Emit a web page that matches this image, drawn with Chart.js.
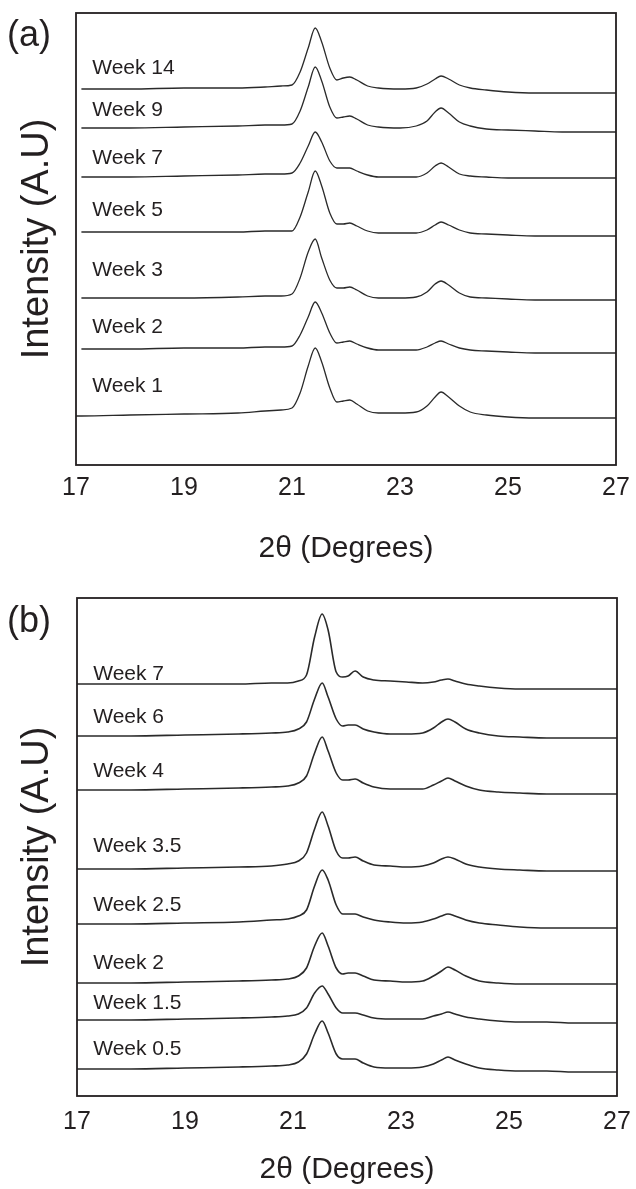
<!DOCTYPE html>
<html>
<head>
<meta charset="utf-8">
<script src="https://cdn.jsdelivr.net/npm/chart.js@4.4.0/dist/chart.umd.min.js"></script>
<style>
  body { margin: 0; background: #fff; width: 636px; height: 1189px; overflow: hidden; }
  canvas { position: absolute; left: 0; }
  #chartA { top: 0; }
  #chartB { top: 580px; }
</style>
</head>
<body>
<canvas id="chartA" width="636" height="580"></canvas>
<canvas id="chartB" width="636" height="609"></canvas>
<script>
// 2-theta sample positions (degrees)
const thetaA = [17, 17.1, 18, 19, 20, 20.5, 20.8, 21.0, 21.15, 21.3, 21.43, 21.55, 21.7, 21.83, 21.95, 22.07, 22.2, 22.4, 22.6, 23.0, 23.3, 23.5, 23.65, 23.76, 23.9, 24.1, 24.3, 24.6, 25, 25.5, 26, 27];
const thetaB = [17, 18, 19, 20, 20.6, 20.9, 21.1, 21.25, 21.4, 21.54, 21.65, 21.8, 21.92, 22.02, 22.15, 22.3, 22.5, 22.8, 23.1, 23.4, 23.6, 23.75, 23.87, 24.0, 24.2, 24.45, 24.8, 25.2, 25.7, 26.2, 27];

// panel (a) intensities, stacked (A.U)
const week14A = [null, 376, 376, 377, 377, 378, 379, 380, 393, 417, 437, 423, 397, 385, 387, 388, 385, 379, 377, 376, 377, 381, 386, 389, 386, 380, 377, 375, 373, 372, 372, 372];
const week9A  = [null, 337, 337, 338, 339, 340, 340, 341, 354, 378, 398, 384, 358, 347, 348, 349, 346, 340, 338, 337, 339, 344, 353, 357, 352, 343, 339, 336, 335, 334, 333, 333];
const week7A  = [null, 288, 288, 289, 290, 291, 291, 292, 302, 319, 333, 323, 304, 297, 297, 297, 294, 290, 288, 288, 288, 292, 299, 302, 298, 291, 289, 288, 287, 287, 287, 287];
const week5A  = [null, 233, 233, 233, 233, 234, 234, 234, 248, 273, 294, 279, 252, 241, 241, 242, 239, 234, 232, 232, 232, 235, 240, 243, 240, 235, 232, 231, 230, 229, 229, 229];
const week3A  = [null, 167, 167, 167, 168, 169, 169, 171, 187, 213, 226, 207, 185, 177, 177, 178, 175, 169, 167, 167, 168, 173, 181, 184, 180, 172, 168, 167, 166, 165, 165, 165];
const week2A  = [null, 116, 116, 117, 117, 118, 118, 119, 130, 148, 163, 152, 132, 122, 123, 124, 121, 117, 115, 115, 115, 118, 122, 124, 121, 117, 115, 114, 113, 112, 112, 112];
const week1A  = [49, 49, 50, 51, 52, 54, 55, 57, 72, 99, 117, 103, 77, 63, 64, 65, 61, 54, 52, 52, 53, 59, 68, 73, 68, 59, 53, 50, 48, 47, 47, 47];

// panel (b) intensities, stacked (A.U)
const week7B  = [412, 412, 412, 412, 413, 413, 415, 421, 459, 482, 466, 424, 419, 420, 425, 419, 416, 415, 414, 413, 414, 416, 417, 415, 412, 410, 408, 407, 407, 407, 407];
const week6B  = [360, 360, 361, 362, 363, 364, 367, 374, 397, 413, 399, 377, 370, 371, 371, 367, 364, 362, 362, 363, 368, 374, 377, 374, 367, 363, 360, 359, 358, 358, 358];
const week4B  = [306, 306, 307, 308, 309, 310, 313, 320, 343, 359, 345, 323, 316, 316, 317, 313, 309, 307, 307, 307, 311, 315, 318, 315, 310, 306, 304, 303, 302, 302, 302];
const week35B = [227, 227, 228, 229, 230, 232, 235, 243, 267, 284, 270, 245, 238, 238, 239, 235, 231, 230, 229, 230, 233, 237, 239, 237, 232, 229, 227, 226, 225, 225, 225];
const week25B = [172, 172, 173, 174, 176, 177, 180, 186, 210, 226, 216, 191, 182, 182, 182, 179, 176, 174, 173, 174, 177, 180, 182, 180, 176, 173, 171, 169, 168, 168, 168];
const week2B  = [113, 113, 114, 115, 116, 117, 120, 128, 150, 163, 150, 128, 122, 123, 123, 120, 116, 115, 114, 115, 120, 125, 129, 126, 120, 115, 113, 112, 112, 112, 112];
const week15B = [76, 76, 77, 78, 79, 80, 82, 88, 103, 110, 102, 88, 83, 83, 83, 81, 78, 77, 77, 77, 80, 82, 84, 82, 79, 77, 75, 74, 74, 73, 73];
const week05B = [27, 27, 28, 29, 30, 31, 34, 42, 62, 75, 63, 42, 37, 37, 37, 33, 29, 28, 28, 29, 32, 36, 39, 36, 32, 28, 26, 25, 25, 24, 24];

const namesA = ['Week 14', 'Week 9', 'Week 7', 'Week 5', 'Week 3', 'Week 2', 'Week 1'];
const namesB = ['Week 7', 'Week 6', 'Week 4', 'Week 3.5', 'Week 2.5', 'Week 2', 'Week 1.5', 'Week 0.5'];
const xTicks = [17, 19, 21, 23, 25, 27];

const ink = '#231f20';
const fontFam = '"Liberation Sans", Arial, Helvetica, sans-serif';

// frame, panel letter and week labels
const decor = {
  id: 'decor',
  afterDatasetsDraw(chart, args, opts) {
    const { ctx, chartArea: a, scales: { x, y } } = chart;
    ctx.save();
    ctx.strokeStyle = ink;
    ctx.lineWidth = 1.8;
    ctx.strokeRect(a.left, a.top, a.right - a.left, a.bottom - a.top);
    ctx.fillStyle = ink;
    ctx.textBaseline = 'middle';
    ctx.font = '21px ' + fontFam;
    opts.names.forEach((t, i) => {
      ctx.fillText(t, x.getPixelForValue(opts.labelX), y.getPixelForValue(opts.labelY[i]));
    });
    ctx.font = '36px ' + fontFam;
    ctx.fillText(opts.panel, 7, opts.panelY);
    ctx.restore();
  }
};

function makeChart(id, theta, series, names, cfg) {
  const datasets = series.map((s, i) => ({
    label: names[i],
    data: theta.map((t, j) => ({ x: t, y: s[j] })),
    borderColor: '#2a2a2a',
    borderWidth: cfg.lw,
    pointRadius: 0,
    cubicInterpolationMode: 'monotone',
    fill: false
  }));
  return new Chart(document.getElementById(id), {
    type: 'line',
    data: { datasets },
    options: {
      responsive: false,
      animation: false,
      devicePixelRatio: 1,
      layout: { padding: cfg.pad },
      plugins: {
        legend: { display: false },
        tooltip: { enabled: false },
        decor: { names, labelX: 17.3, labelY: cfg.labelY, panel: cfg.panel, panelY: cfg.panelY }
      },
      scales: {
        x: {
          type: 'linear',
          min: 17,
          max: 27,
          afterBuildTicks: s => { s.ticks = xTicks.map(v => ({ value: v })); },
          afterFit: s => { s.height = cfg.xHeight; s.paddingLeft = 0; s.paddingRight = 0; },
          grid: { display: false, drawTicks: false },
          border: { display: false },
          ticks: { color: ink, font: { family: fontFam, size: 25 }, padding: cfg.tickPad, maxRotation: 0, autoSkip: false },
          title: { display: true, text: '2θ (Degrees)', color: ink, font: { family: fontFam, size: 30 }, padding: { top: 0, bottom: cfg.titlePad } }
        },
        y: {
          type: 'linear',
          min: 0,
          max: cfg.yMax,
          afterFit: s => { s.width = cfg.yWidth; s.paddingTop = 0; s.paddingBottom = 0; },
          grid: { display: false, drawTicks: false },
          border: { display: false },
          ticks: { display: false },
          title: { display: true, text: 'Intensity (A.U)', color: ink, font: { family: fontFam, size: 38 }, padding: 0 }
        }
      }
    },
    plugins: [decor]
  });
}

makeChart('chartA', thetaA,
  [week14A, week9A, week7A, week5A, week3A, week2A, week1A], namesA,
  { pad: { left: 15, right: 20, top: 13, bottom: 0 }, yWidth: 61, xHeight: 115, tickPad: 8, titlePad: 13,
    yMax: 452, lw: 1.3, labelY: [397, 355, 307, 255, 195, 138, 79], panel: '(a)', panelY: 36 });

makeChart('chartB', thetaB,
  [week7B, week6B, week4B, week35B, week25B, week2B, week15B, week05B], namesB,
  { pad: { left: 15, right: 19, top: 18, bottom: 0 }, yWidth: 62, xHeight: 93, tickPad: 11, titlePad: 1,
    yMax: 498, lw: 1.6, labelY: [422, 379, 325, 250, 191, 133, 93, 47], panel: '(b)', panelY: 42 });
</script>
</body>
</html>
